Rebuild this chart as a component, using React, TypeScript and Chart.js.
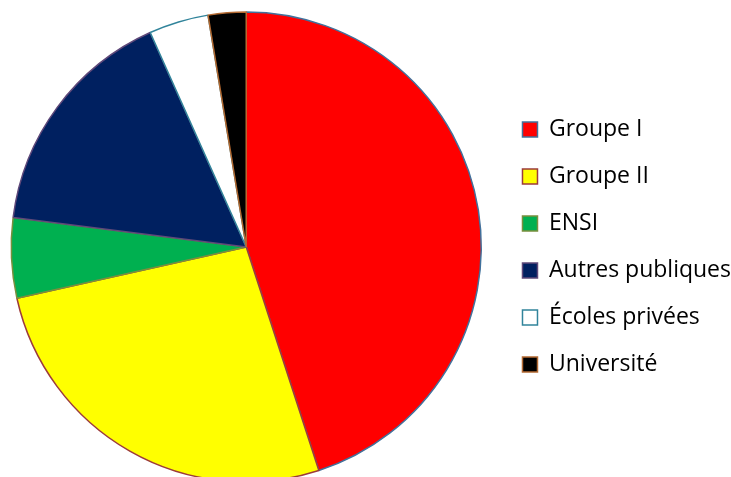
import React, { useEffect, useRef } from "react";
import { Chart, registerables } from "chart.js";

Chart.register(...registerables);

const categories = ["Groupe I", "Groupe II", "ENSI", "Autres publiques", "Écoles privées", "Université"];
const values = [45.0, 26.5, 5.5, 16.3, 4.1, 2.6];
const fillColors = ["#FF0000", "#FFFF00", "#00B050", "#002060", "#FFFFFF", "#000000"];
const borderColors = ["#41719C", "#9C3B3B", "#7A8F3E", "#5F497A", "#31849B", "#B46A32"];

export default function App() {
  const ref = useRef<HTMLCanvasElement | null>(null);
  useEffect(() => {
    if (!ref.current) return;
    const chart = new Chart(ref.current, {
      type: "pie",
      data: {
        labels: categories,
        datasets: [
          {
            data: values,
            backgroundColor: fillColors,
            borderColor: borderColors,
            borderWidth: 1.5,
          },
        ],
      },
      options: {
        animation: false,
        responsive: false,
        maintainAspectRatio: false,
        radius: 235,
        layout: { padding: 0 },
        plugins: {
          tooltip: { enabled: false },
          legend: {
            position: "right",
            labels: {
              color: "#000000",
              boxWidth: 15,
              boxHeight: 15,
              padding: 24,
              font: { family: "'Open Sans', sans-serif", size: 23 },
            },
          },
        },
      },
    });
    return () => chart.destroy();
  }, []);
  return (
    <div style={{ position: "fixed", left: -6, top: 0, width: 747, height: 494 }}>
      <canvas ref={ref} width={747} height={494} style={{ display: "block" }} />
    </div>
  );
}
